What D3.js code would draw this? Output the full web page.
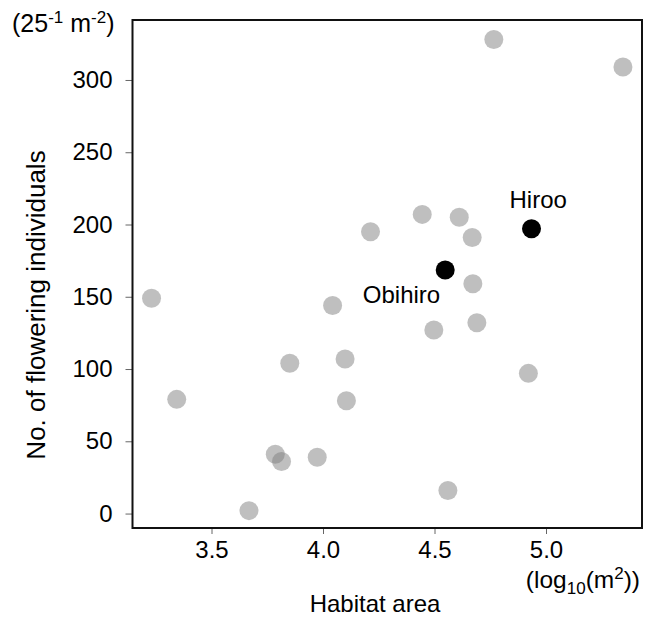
<!DOCTYPE html>
<html>
<head>
<meta charset="utf-8">
<script src="https://cdn.jsdelivr.net/npm/d3@7"></script>
<style>
  body { margin: 0; background: #fff; }
  text { font-family: "Liberation Sans", Arial, sans-serif; fill: #000; }
</style>
</head>
<body>
<div class="scatter"></div>
<script>
var width = 646,
  height = 619

// grey sites: habitat area (log10 m2) and flowering individuals
var areaLog = [4.766, 5.345, 4.445, 4.611, 4.669, 4.213, 4.672, 3.231, 4.043, 4.497, 4.690,
  3.851, 4.099, 4.921, 3.344, 4.105, 3.786, 3.814, 3.974, 4.560, 3.668]
var flowering = [328, 309, 207, 205, 191, 195, 159, 149, 144, 127, 132,
  104, 107, 97, 79, 78, 41, 36, 39, 16, 2]

// named sites (black)
var siteNames = ['Hiroo', 'Obihiro']
var siteArea = [4.935, 4.548]
var siteFlowering = [197, 168.5]

var xTicks = [3.5, 4.0, 4.5, 5.0]
var yTicks = [0, 50, 100, 150, 200, 250, 300]

var svg = d3.select('.scatter')
  .append('svg')
  .attr('width', width)
  .attr('height', height)

//SCALES
var xScale = d3.scaleLinear()
  .domain([3.1457, 5.4305])
  .range([132.5, 642])

var yScale = d3.scaleLinear()
  .domain([-10, 341.5])
  .range([528, 20])

//AXES
var yAxis = svg.append('g')
  .attr('transform', 'translate(132.5,0)')
  .call(d3.axisLeft(yScale).tickValues(yTicks).tickSize(7).tickPadding(13))
yAxis.select('.domain').remove()
yAxis.selectAll('line').attr('stroke', '#666')
yAxis.selectAll('text').style('font-size', '24px').attr('fill', '#000')

var xAxis = svg.append('g')
  .attr('transform', 'translate(0,528)')
  .call(d3.axisBottom(xScale).tickValues(xTicks).tickFormat(d3.format('.1f')).tickSize(6).tickPadding(7))
xAxis.select('.domain').remove()
xAxis.selectAll('line').attr('stroke', '#666')
xAxis.selectAll('text').style('font-size', '24px').attr('fill', '#000')

// frame
svg.append('rect')
  .attr('x', xScale.range()[0])
  .attr('y', yScale.range()[1])
  .attr('width', xScale.range()[1] - xScale.range()[0])
  .attr('height', yScale.range()[0] - yScale.range()[1])
  .attr('fill', 'none')
  .attr('stroke', '#111')
  .attr('stroke-width', 2)

//POINTS
svg.selectAll('circle.grey')
  .data(areaLog)
  .enter()
  .append('circle')
  .attr('class', 'grey')
  .attr('cx', function(d) { return xScale(d) })
  .attr('cy', function(d, i) { return yScale(flowering[i]) })
  .attr('r', 9.5)
  .attr('fill', '#808080')
  .attr('fill-opacity', 0.5)

svg.selectAll('circle.site')
  .data(siteNames)
  .enter()
  .append('circle')
  .attr('class', 'site')
  .attr('cx', function(d, i) { return xScale(siteArea[i]) })
  .attr('cy', function(d, i) { return yScale(siteFlowering[i]) })
  .attr('r', 9.5)
  .attr('fill', '#000')

// site labels, offset from their points
var labelDx = [-22, -5]
var labelDy = [-20.5, 33]
var labelAnchor = ['start', 'end']
svg.selectAll('text.site')
  .data(siteNames)
  .enter()
  .append('text')
  .attr('class', 'site')
  .attr('x', function(d, i) { return xScale(siteArea[i]) + labelDx[i] })
  .attr('y', function(d, i) { return yScale(siteFlowering[i]) + labelDy[i] })
  .attr('text-anchor', function(d, i) { return labelAnchor[i] })
  .style('font-size', '24px')
  .text(function(d) { return d })

//AXIS TITLES
svg.append('text')
  .attr('x', 375)
  .attr('y', 611.5)
  .attr('text-anchor', 'middle')
  .style('font-size', '24px')
  .text('Habitat area')

svg.append('text')
  .attr('transform', 'translate(45,305) rotate(-90)')
  .attr('text-anchor', 'middle')
  .style('font-size', '26px')
  .text('No. of flowering individuals')

// units
var yUnit = svg.append('text')
  .attr('x', 12)
  .attr('y', 32)
  .style('font-size', '25px')
yUnit.append('tspan').text('(25')
yUnit.append('tspan').attr('dy', -9).style('font-size', '17px').text('-1')
yUnit.append('tspan').attr('dy', 9).text(' m')
yUnit.append('tspan').attr('dy', -9).style('font-size', '17px').text('-2')
yUnit.append('tspan').attr('dy', 9).text(')')

var xUnit = svg.append('text')
  .attr('x', 640)
  .attr('y', 588)
  .attr('text-anchor', 'end')
  .style('font-size', '24.5px')
xUnit.append('tspan').text('(log')
xUnit.append('tspan').attr('dy', 6).style('font-size', '17px').text('10')
xUnit.append('tspan').attr('dy', -6).text('(m')
xUnit.append('tspan').attr('dy', -9).style('font-size', '17px').text('2')
xUnit.append('tspan').attr('dy', 9).text('))')
</script>
</body>
</html>
